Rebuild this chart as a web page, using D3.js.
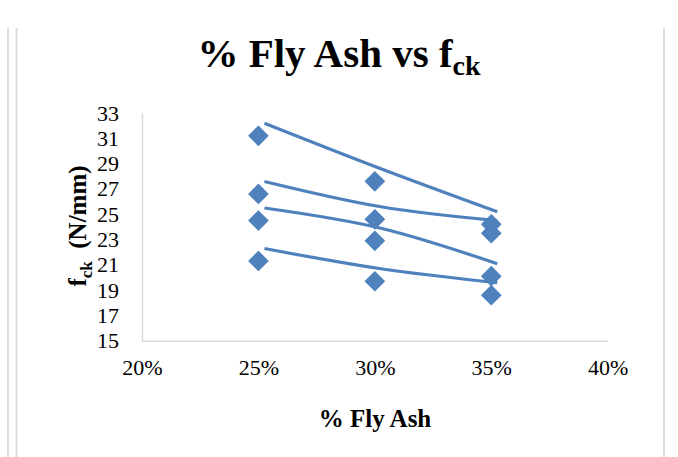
<!DOCTYPE html>
<html>
<head>
<meta charset="utf-8">
<script src="https://cdn.jsdelivr.net/npm/d3@7"></script>
<style>
	body { margin: 0; background: #fff; }
	text { font-family: "Liberation Serif", "Times New Roman", serif; fill: #000; }
</style>
</head>
<body>
<svg id="ChartSvg" width="678" height="457"></svg>
<script>
// fly ash content (fraction) for each mix
var FlyAsh = [0.25, 0.30, 0.35];

// fck values, one array per series
var SeriesA = [31.2, 27.6, 24.2];
var SeriesB = [26.6, 24.6, 23.5];
var SeriesC = [24.5, 22.9, 20.1];
var SeriesD = [21.3, 19.7, 18.6];
var AllSeries = [SeriesA, SeriesB, SeriesC, SeriesD];

var XTicks = [0.20, 0.25, 0.30, 0.35, 0.40];
var YTicks = [15, 17, 19, 21, 23, 25, 27, 29, 31, 33];

var Blue = "#4f81bd";
var Grey = "#d9d9d9";
var Serif = "'Liberation Serif', 'Times New Roman', serif";

var Svg = d3.select("#ChartSvg");

// page border lines
Svg.append("line").attr("x1", 8).attr("x2", 8).attr("y1", 28).attr("y2", 457)
	.style("stroke", Grey).style("stroke-width", 1.7);
Svg.append("line").attr("x1", 16.5).attr("x2", 16.5).attr("y1", 28).attr("y2", 457)
	.style("stroke", Grey).style("stroke-width", 1.7);
Svg.append("line").attr("x1", 664).attr("x2", 664).attr("y1", 28).attr("y2", 457)
	.style("stroke", Grey).style("stroke-width", 1.7);

var X = d3.scaleLinear().domain([0.20, 0.40]).range([142, 607.7]);
var Y = d3.scaleLinear().domain([15, 33]).range([340.7, 113]);

// axes
var XAxis = Svg.append("g")
	.attr("transform", "translate(0," + Y(15) + ")")
	.call(d3.axisBottom(X).tickValues(XTicks).tickSize(0).tickPadding(19)
		.tickFormat(d3.format(".0%")));
var YAxis = Svg.append("g")
	.attr("transform", "translate(" + X(0.20) + ",0)")
	.call(d3.axisLeft(Y).tickValues(YTicks).tickSize(0).tickPadding(23));

[XAxis, YAxis].forEach(function(A)
{
	A.attr("font-family", Serif).attr("font-size", 22);
	A.select(".domain").style("stroke", Grey).style("stroke-width", 1.5);
	A.selectAll("text")
		.attr("font-family", Serif)
		.style("font-family", Serif)
		.style("font-size", "22px");
});

// trendlines (drawn with the same small offset as in the source picture)
var TrendLine = d3.line()
	.x(function(d, i) { return X(FlyAsh[i]); })
	.y(function(d) { return Y(d); })
	.curve(d3.curveNatural);

Svg.append("g")
	.attr("transform", "translate(6,-12.5)")
	.selectAll("path")
	.data(AllSeries)
	.enter()
	.append("path")
	.attr("d", TrendLine)
	.style("fill", "none")
	.style("stroke", Blue)
	.style("stroke-width", 3.2);

// diamond markers
var Points = [];
AllSeries.forEach(function(S)
{
	S.forEach(function(v, i) { Points.push({x: FlyAsh[i], y: v}); });
});

Svg.append("g")
	.selectAll("path")
	.data(Points)
	.enter()
	.append("path")
	.attr("d", d3.symbol().type(d3.symbolSquare).size(215))
	.attr("transform", function(d)
	{
		return "translate(" + X(d.x) + "," + Y(d.y) + ") rotate(45)";
	})
	.style("fill", Blue);

// title
var Title = Svg.append("text")
	.attr("x", 339).attr("y", 67)
	.attr("text-anchor", "middle")
	.style("font-size", "41px").style("font-weight", "bold");
Title.append("tspan").text("% Fly Ash vs f");
Title.append("tspan").attr("dy", 8).style("font-size", "28px").text("ck");

// axis titles
Svg.append("text")
	.attr("x", 375).attr("y", 427)
	.attr("text-anchor", "middle")
	.style("font-size", "25px").style("font-weight", "bold")
	.text("% Fly Ash");

var YTitle = Svg.append("text")
	.attr("transform", "translate(86,226) rotate(-90)")
	.attr("text-anchor", "middle")
	.style("font-size", "25px").style("font-weight", "bold");
YTitle.append("tspan").text("f");
YTitle.append("tspan").attr("dy", 6).style("font-size", "17px").text("ck");
YTitle.append("tspan").attr("dy", -6).text("\u00a0 (N/mm)");
</script>
</body>
</html>
